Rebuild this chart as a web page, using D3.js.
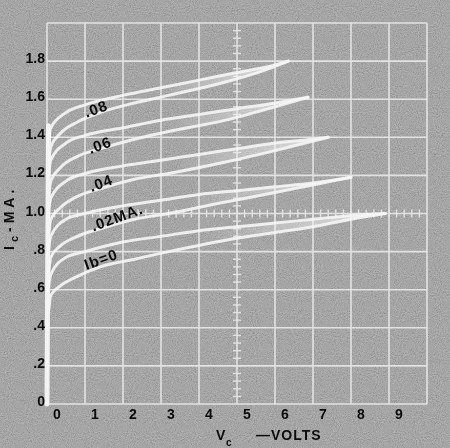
<!DOCTYPE html>
<html>
<head>
<meta charset="utf-8">
<script src="https://cdn.jsdelivr.net/npm/d3@7"></script>
<style>
  body { margin: 0; background: #8a8a8a; }
  svg { display: block; }
</style>
</head>
<body>
<script>
var width = 450,
    height = 448;

// tick labels
var xTicks = [0, 1, 2, 3, 4, 5, 6, 7, 8, 9];
var yTicks = ["0", ".2", ".4", ".6", ".8", "1.0", "1.2", "1.4", "1.6", "1.8"];

// base current steps (mA)
var baseCurrents = [0, 0.02, 0.04, 0.06, 0.08];

// each Ib draws a loop: upper and lower trace [Vc, Ic]
var ib0Upper = [[0.02,0.58],[0.1,0.68],[0.5,0.77],[1,0.80],[2,0.85],[3,0.88],[4,0.91],[5,0.93],[6,0.95],[7,0.97],[8,0.99],[8.9,1.00]];
var ib0Lower = [[0.05,0.50],[0.1,0.57],[0.35,0.62],[0.8,0.67],[1.4,0.72],[2.3,0.76],[3.2,0.80],[4.7,0.86],[6,0.90],[7,0.93],[8,0.97],[8.9,1.00]];
var ib02Upper = [[0.02,0.78],[0.1,0.88],[0.5,0.97],[1,1.00],[2,1.04],[3,1.07],[4,1.10],[5,1.12],[6,1.14],[7,1.16],[8.0,1.19]];
var ib02Lower = [[0.05,0.70],[0.1,0.77],[0.35,0.83],[0.8,0.88],[1.4,0.92],[2.3,0.97],[3.2,1.00],[4.7,1.06],[6,1.11],[7,1.15],[8.0,1.19]];
var ib04Upper = [[0.02,0.98],[0.1,1.08],[0.5,1.17],[1,1.21],[2,1.25],[3,1.28],[4,1.31],[5,1.34],[6,1.37],[7,1.39],[7.4,1.40]];
var ib04Lower = [[0.05,0.90],[0.1,0.97],[0.35,1.03],[0.8,1.09],[1.4,1.13],[2.3,1.18],[3.2,1.21],[4.7,1.27],[6,1.33],[7,1.38],[7.4,1.40]];
var ib06Upper = [[0.02,1.18],[0.1,1.28],[0.5,1.37],[1,1.41],[2,1.45],[3,1.49],[4,1.52],[5,1.55],[6,1.58],[6.87,1.61]];
var ib06Lower = [[0.05,1.10],[0.1,1.17],[0.35,1.24],[0.8,1.30],[1.4,1.34],[2.3,1.39],[3.2,1.43],[4.7,1.49],[6,1.56],[6.87,1.61]];
var ib08Upper = [[0.02,1.36],[0.1,1.45],[0.5,1.53],[1,1.57],[2,1.62],[3,1.66],[4,1.70],[5,1.74],[6,1.78],[6.35,1.80]];
var ib08Lower = [[0.05,1.28],[0.1,1.35],[0.35,1.42],[0.8,1.48],[1.4,1.53],[2.3,1.58],[3.2,1.62],[4.7,1.69],[5.7,1.75],[6.35,1.80]];

// the vertical (saturation) trace at Vc = 0
var riseTrace = [[0, 0], [0.02, 0.8], [0.04, 1.46]];

var loops = [[ib0Upper, ib0Lower], [ib02Upper, ib02Lower], [ib04Upper, ib04Lower],
             [ib06Upper, ib06Lower], [ib08Upper, ib08Lower]];

// curve labels, anchored in data units
var curveLabels = [".08", ".06", ".04", ".02MA.", "Ib=0"];
var labelAt = [[1.29, 1.55], [1.39, 1.36], [1.42, 1.16], [1.84, 0.98], [1.42, 0.76]];

var x = d3.scaleLinear().domain([0, 10]).range([47, 427]);
var y = d3.scaleLinear().domain([0, 2]).range([404, 23]);

var svg = d3.select("body").append("svg")
    .attr("width", width)
    .attr("height", height);

var defs = svg.append("defs");
var grain = defs.append("filter").attr("id", "grain")
    .attr("x", 0).attr("y", 0).attr("width", "100%").attr("height", "100%");
grain.append("feTurbulence")
    .attr("type", "fractalNoise")
    .attr("baseFrequency", "0.95")
    .attr("numOctaves", 2)
    .attr("seed", 4)
    .attr("stitchTiles", "stitch");
grain.append("feColorMatrix")
    .attr("type", "matrix")
    .attr("values", "0.33 0.33 0.33 0 0  0.33 0.33 0.33 0 0  0.33 0.33 0.33 0 0  0 0 0 0 1");

var glow = defs.append("filter").attr("id", "glow");
glow.append("feGaussianBlur").attr("stdDeviation", 0.6);

var fan = defs.append("linearGradient").attr("id", "fan")
    .attr("x1", 0).attr("x2", 1).attr("y1", 0).attr("y2", 0);
fan.append("stop").attr("offset", 0.45).attr("stop-color", "#f6f6f6").attr("stop-opacity", 0);
fan.append("stop").attr("offset", 1).attr("stop-color", "#f6f6f6").attr("stop-opacity", 0.75);

svg.append("rect")
    .attr("width", width).attr("height", height)
    .attr("fill", "#868686");
svg.append("rect")
    .attr("width", width).attr("height", height)
    .attr("filter", "url(#grain)")
    .attr("opacity", 0.6);

// graticule
var grid = svg.append("g")
    .attr("stroke", "#f2f2f2")
    .attr("stroke-width", 1.6)
    .attr("opacity", 0.8);

grid.selectAll(".vline")
    .data(d3.range(0, 11))
  .enter().append("line")
    .attr("class", "vline")
    .attr("x1", function(d) { return x(d); })
    .attr("x2", function(d) { return x(d); })
    .attr("y1", y(0))
    .attr("y2", y(2));

grid.selectAll(".hline")
    .data(d3.range(0, 2.01, 0.2))
  .enter().append("line")
    .attr("class", "hline")
    .attr("x1", x(0))
    .attr("x2", x(10))
    .attr("y1", function(d) { return y(d); })
    .attr("y2", function(d) { return y(d); });

// minor ticks on the centre lines
grid.selectAll(".vtick")
    .data(d3.range(0.04, 2, 0.04))
  .enter().append("line")
    .attr("x1", x(5) - 4)
    .attr("x2", x(5) + 4)
    .attr("y1", function(d) { return y(d); })
    .attr("y2", function(d) { return y(d); })
    .attr("stroke-width", 1.4);

grid.selectAll(".htick")
    .data(d3.range(0.2, 10, 0.2))
  .enter().append("line")
    .attr("x1", function(d) { return x(d); })
    .attr("x2", function(d) { return x(d); })
    .attr("y1", y(1) - 4)
    .attr("y2", y(1) + 4)
    .attr("stroke-width", 1.4);

// traces
var line = d3.line()
    .x(function(d) { return x(d[0]); })
    .y(function(d) { return y(d[1]); })
    .curve(d3.curveMonotoneX);

var traceG = svg.append("g")
    .attr("stroke-linecap", "round")
    .attr("filter", "url(#glow)");

// bright fan where the two sweeps of a loop come together
traceG.selectAll(".fan")
    .data(loops)
  .enter().append("path")
    .attr("class", "fan")
    .attr("d", function(d) {
      var lower = d[1].slice().reverse();
      return line(d[0]) + line(lower).replace("M", "L") + "Z";
    })
    .attr("fill", "url(#fan)")
    .attr("stroke", "none");

traceG.selectAll(".trace")
    .data(d3.merge(loops))
  .enter().append("path")
    .attr("class", "trace")
    .attr("d", line)
    .attr("fill", "none")
    .attr("stroke", "#f6f6f6")
    .attr("stroke-width", 3)
    .attr("opacity", 0.9);

traceG.append("path")
    .attr("d", d3.line()
        .x(function(d) { return x(d[0]); })
        .y(function(d) { return y(d[1]); })(riseTrace))
    .attr("fill", "none")
    .attr("stroke", "#f6f6f6")
    .attr("stroke-width", 5)
    .attr("opacity", 0.95);

// text
var font = "'Liberation Sans', Arial, sans-serif";

svg.append("g").selectAll("text")
    .data(yTicks)
  .enter().append("text")
    .attr("x", 45)
    .attr("y", function(d, i) { return y(i * 0.2) + 2; })
    .attr("text-anchor", "end")
    .attr("font-family", font)
    .attr("font-weight", "bold")
    .attr("font-size", 14)
    .attr("fill", "#0c0c0c")
    .text(function(d) { return d; });

svg.append("g").selectAll("text")
    .data(xTicks)
  .enter().append("text")
    .attr("x", function(d) { return x(d) + 10; })
    .attr("y", 419)
    .attr("text-anchor", "middle")
    .attr("font-family", font)
    .attr("font-weight", "bold")
    .attr("font-size", 14)
    .attr("fill", "#0c0c0c")
    .text(function(d) { return d; });

var xTitle = svg.append("g")
    .attr("font-family", font)
    .attr("font-weight", "bold")
    .attr("fill", "#0c0c0c");
xTitle.append("text").attr("x", 216).attr("y", 440).attr("font-size", 14).text("V");
xTitle.append("text").attr("x", 226).attr("y", 446).attr("font-size", 10).text("c");
xTitle.append("text").attr("x", 256).attr("y", 440).attr("font-size", 14)
    .attr("letter-spacing", 1).text("\u2014VOLTS");

var yTitle = svg.append("text")
    .attr("transform", "translate(14,250) rotate(-90)")
    .attr("font-family", font)
    .attr("font-weight", "bold")
    .attr("font-size", 14)
    .attr("letter-spacing", 4)
    .attr("fill", "#0c0c0c");
yTitle.append("tspan").text("I");
yTitle.append("tspan").attr("dy", 4).attr("font-size", 11).text("c");
yTitle.append("tspan").attr("dy", -4).text("-MA.");

svg.append("g").selectAll("text")
    .data(curveLabels)
  .enter().append("text")
    .attr("transform", function(d, i) {
      return "translate(" + x(labelAt[i][0]) + "," + y(labelAt[i][1]) + ") rotate(-20)";
    })
    .attr("text-anchor", "middle")
    .attr("dy", "0.35em")
    .attr("font-family", font)
    .attr("font-weight", "bold")
    .attr("font-size", 15)
    .attr("letter-spacing", 1)
    .attr("fill", "#0c0c0c")
    .text(function(d) { return d; });
</script>
</body>
</html>
